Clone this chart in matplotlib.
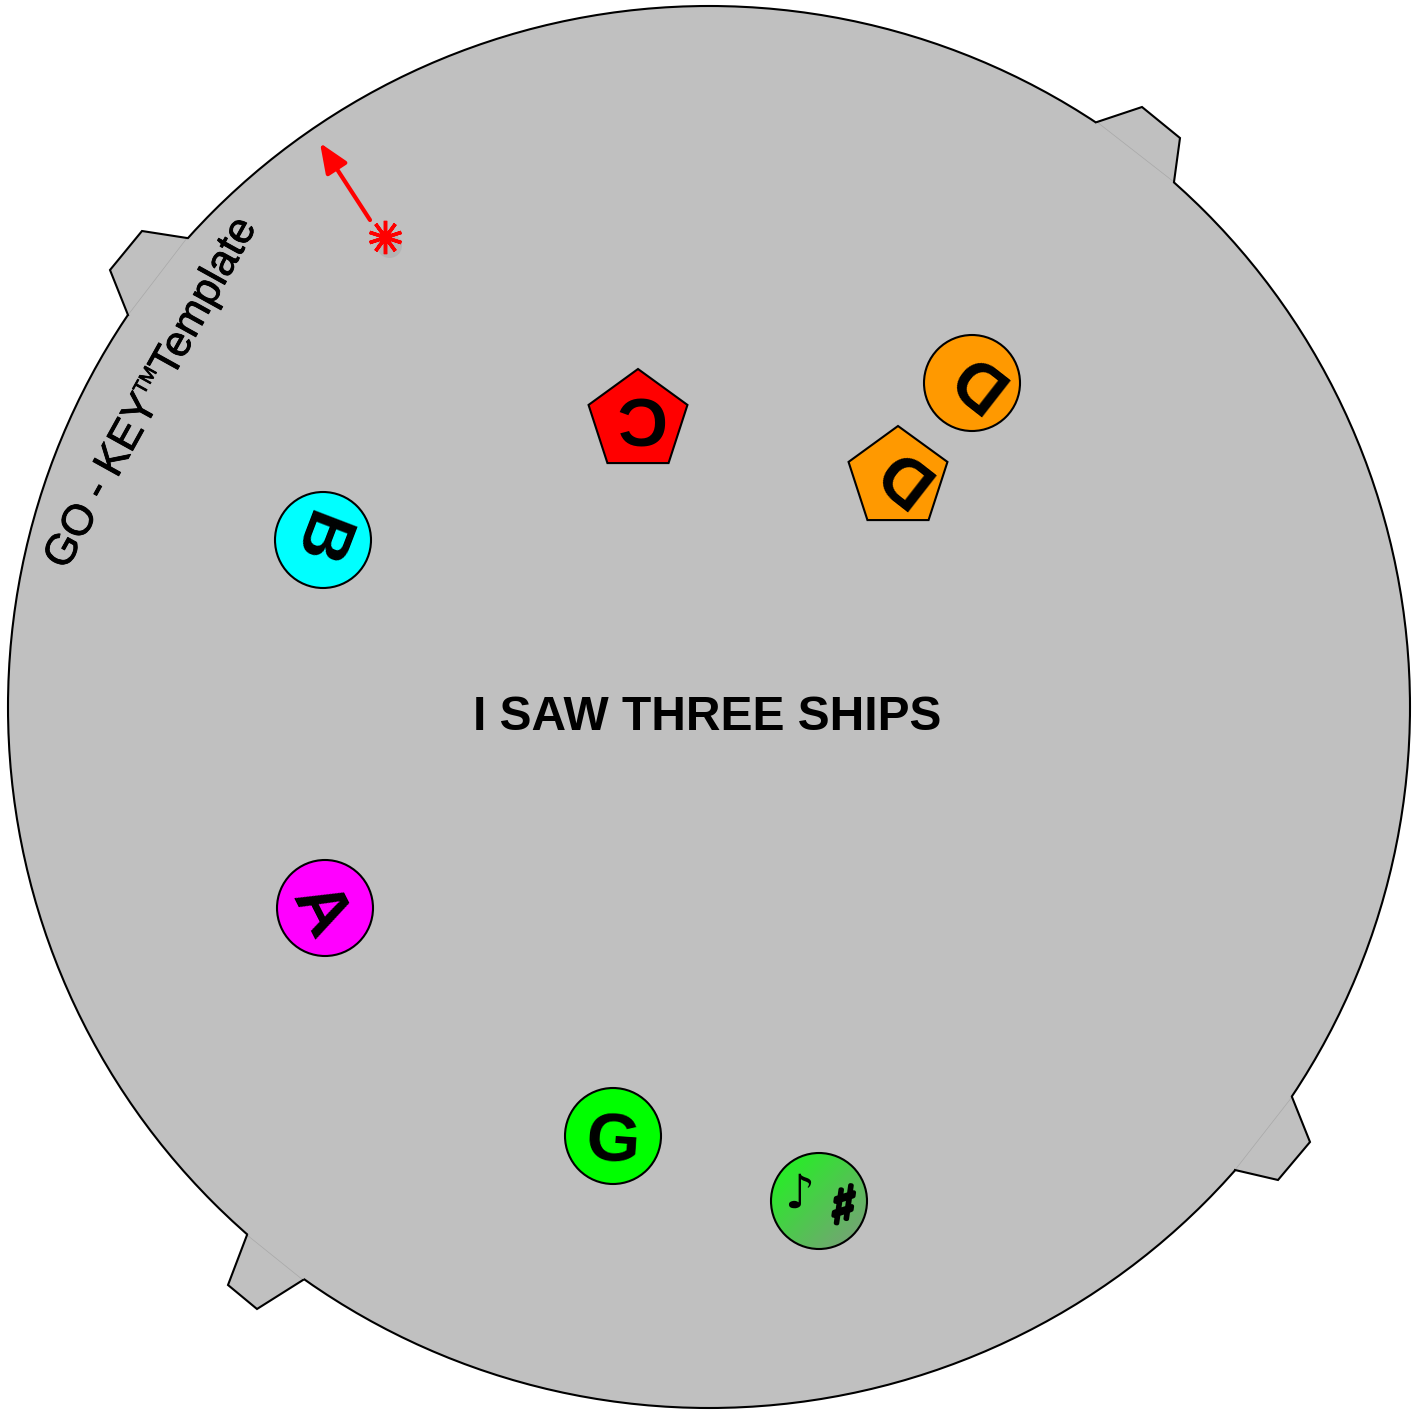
import numpy as np
import matplotlib.pyplot as plt
import matplotlib.patheffects as pe
from matplotlib.patches import Circle, Polygon, RegularPolygon

plt.rcParams['font.family'] = ['Liberation Sans', 'DejaVu Sans']

# board
board_center = (709, 707)
board_radius = 701
board_color = '#c0c0c0'

# tabs on the rim (outer outline points, first and last sit on the rim)
tab_tl = [(187, 238), (142, 231), (110, 270), (128, 315)]
tab_tr = [(1097, 122), (1142, 107), (1180, 138), (1174, 182)]
tab_br = [(1292, 1097), (1310, 1142), (1278, 1180), (1235, 1170)]
tab_bl = [(247, 1235), (228, 1285), (257, 1309), (303, 1280)]

# note markers
labels = ['C', 'D', 'D', 'B', 'A', 'G']
mark_x = [638, 972, 898, 323, 325, 613]
mark_y = [421, 383, 478, 540, 908, 1136]
shapes = ['pentagon', 'circle', 'pentagon', 'circle', 'circle', 'circle']
colors = ['#ff0000', '#ff9900', '#ff9900', '#00ffff', '#ff00ff', '#00ff00']
rotations = [180, 142, 142, -111, -63, -4]

# the gradient marker with a note and a sharp
sharp_x, sharp_y = 819, 1201

title = 'I SAW THREE SHIPS'
brand_parts = ['GO - KEY', 'TM', 'Template']

W, H = 1424, 1410
fig = plt.figure(figsize=(W / 100, H / 100), dpi=100)
ax = fig.add_axes([0, 0, 1, 1])
ax.set_xlim(0, W)
ax.set_ylim(H, 0)
ax.axis('off')

ax.add_patch(Circle(board_center, board_radius, fc=board_color, ec='black', lw=1.5, zorder=1))

for tab in [tab_tl, tab_tr, tab_br, tab_bl]:
    pts = np.array(tab, dtype=float)
    # pull the base points a little inside so the fill hides the rim line
    inner = []
    for p in [pts[-1], pts[0]]:
        d = p - np.array(board_center)
        inner.append(np.array(board_center) + d * (board_radius - 8) / np.hypot(*d))
    poly = np.vstack([pts, inner])
    ax.add_patch(Polygon(poly, closed=True, fc=board_color, ec='none', zorder=2))
    ax.plot(pts[:, 0], pts[:, 1], color='black', lw=1.5, zorder=2.5, solid_joinstyle='miter')
    ax.plot([pts[0, 0], pts[-1, 0]], [pts[0, 1], pts[-1, 1]], color='#a8a8a8', lw=0.5, zorder=2.4)

r_mark = 48
for lab, x, y, shp, col, rot in zip(labels, mark_x, mark_y, shapes, colors, rotations):
    if shp == 'circle':
        ax.add_patch(Circle((x, y), r_mark, fc=col, ec='black', lw=1.5, zorder=3))
    else:
        ax.add_patch(RegularPolygon((x, y), 5, radius=52, orientation=np.pi,
                                    fc=col, ec='black', lw=1.5, zorder=3))
    ax.text(x, y, lab, fontsize=50, fontweight='bold', rotation=rot, rotation_mode='anchor',
            ha='center', va='center_baseline', zorder=4)

# gradient circle
ax.add_patch(Circle((sharp_x, sharp_y), r_mark, fc='none', ec='black', lw=1.5, zorder=5))
n = 200
u, v = np.meshgrid(np.linspace(0, 1, n), np.linspace(0, 1, n))
t = np.clip((u + v) / 2, 0, 1)[..., None]
c0 = np.array([0.10, 0.98, 0.10])
c1 = np.array([0.50, 0.60, 0.50])
img = c0 * (1 - t) + c1 * t
im = ax.imshow(img, extent=[sharp_x - r_mark, sharp_x + r_mark, sharp_y + r_mark, sharp_y - r_mark],
               origin='upper', zorder=4, interpolation='bilinear')
im.set_clip_path(Circle((sharp_x, sharp_y), r_mark, transform=ax.transData))
ax.set_xlim(0, W)
ax.set_ylim(H, 0)
ax.text(sharp_x - 20, sharp_y - 6, '\u266a', fontsize=34, family='DejaVu Sans',
        ha='center', va='center', zorder=6)
ax.text(sharp_x + 24, sharp_y + 8, '\u266f', fontsize=39, family='DejaVu Sans',
        rotation=-8, ha='center', va='center', zorder=6,
        path_effects=[pe.withStroke(linewidth=3, foreground='black')])

# title
ax.text(707, 713, title, fontsize=34.5, fontweight='bold', ha='center', va='center_baseline', zorder=4)

# brand along the rim, written in pieces so the TM can be small and raised
renderer = fig.canvas.get_renderer()
fs_main, fs_tm = 31, 14
rot_brand = 61
ang = np.deg2rad(rot_brand)
along = np.array([np.cos(ang), -np.sin(ang)])    # baseline direction in data coords
up = np.array([-np.sin(ang), -np.cos(ang)])      # perpendicular, towards the glyph tops
pos = np.array([66.0, 571.0])
for part in brand_parts:
    fs = fs_tm if part == 'TM' else fs_main
    probe = ax.text(0, 0, part, fontsize=fs)
    wpx = probe.get_window_extent(renderer).width
    probe.remove()
    p = pos + up * (fs_main - fs_tm) * 0.72 * 100 / 72 if part == 'TM' else pos
    ax.text(p[0], p[1], part, fontsize=fs, rotation=rot_brand, rotation_mode='anchor',
            ha='left', va='baseline', zorder=4,
            path_effects=[pe.withStroke(linewidth=0.6, foreground='black')])
    pos = pos + along * wpx

# red pointer and star
ax.annotate('', xy=(320, 143), xytext=(370, 220),
            arrowprops=dict(arrowstyle='-|>,head_length=0.6,head_width=0.25', color='red',
                            lw=3, mutation_scale=30, shrinkA=0, shrinkB=0), zorder=4)
ax.plot(389, 245, marker='o', ms=18, color='#808080', alpha=0.2, mec='none', zorder=3.5)
ax.plot(385, 237, marker=(10, 2, 0), ms=24, mew=2.5, color='red', zorder=4)

fig.savefig('out.png', dpi=100)
